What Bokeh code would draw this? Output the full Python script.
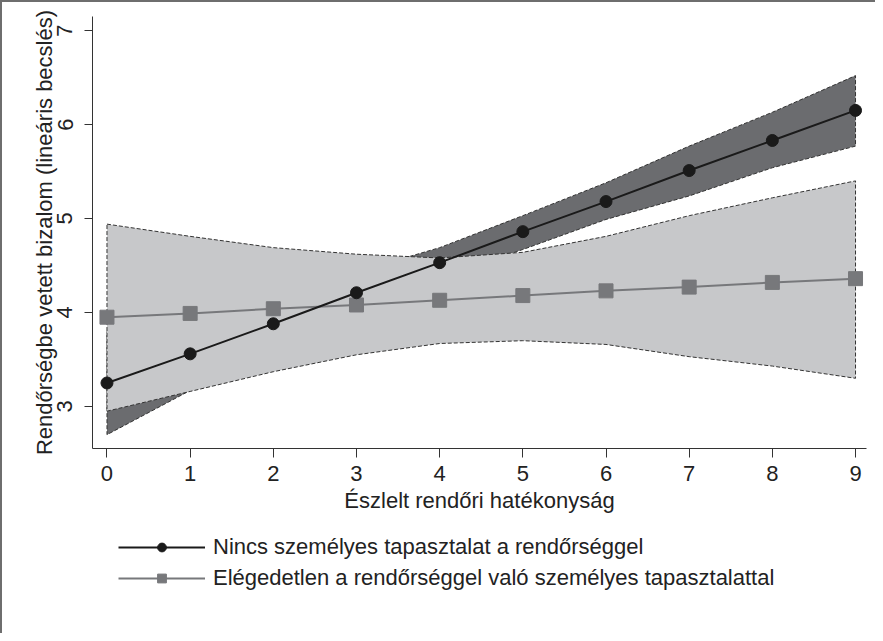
from bokeh.plotting import figure
from bokeh.layouts import column
from bokeh.models import FixedTicker, Legend, LegendItem, Range1d
from bokeh.embed import file_html
from bokeh.resources import INLINE

# ---- data ----
x_vals = [0, 1, 2, 3, 4, 5, 6, 7, 8, 9]
nincs_est = [3.25, 3.56, 3.88, 4.21, 4.53, 4.86, 5.18, 5.51, 5.83, 6.15]
nincs_lo = [2.70, 3.17, 3.59, 3.99, 4.37, 4.67, 4.99, 5.24, 5.54, 5.77]
nincs_hi = [3.80, 3.95, 4.19, 4.43, 4.69, 5.03, 5.38, 5.77, 6.13, 6.52]
eleg_est = [3.95, 3.99, 4.04, 4.08, 4.13, 4.18, 4.23, 4.27, 4.32, 4.36]
eleg_lo = [2.95, 3.16, 3.37, 3.55, 3.67, 3.70, 3.66, 3.53, 3.43, 3.30]
eleg_hi = [4.94, 4.81, 4.69, 4.62, 4.58, 4.64, 4.81, 5.03, 5.22, 5.40]
x_ticks = [0, 1, 2, 3, 4, 5, 6, 7, 8, 9]
y_ticks = [3, 4, 5, 6, 7]
series_labels = ["Nincs személyes tapasztalat a rendőrséggel",
                 "Elégedetlen a rendőrséggel való személyes tapasztalattal"]
x_title = "Észlelt rendőri hatékonyság"
y_title = "Rendőrségbe vetett bizalom (lineáris becslés)"

FONT = "Liberation Sans"
TXT = "#222222"
BLACK = "#1a1a1a"
GREY = "#77787b"

p = figure(output_backend="svg", toolbar_location=None,
           x_range=Range1d(-0.174, 9.132), y_range=Range1d(2.553, 7.149),
           frame_width=774, frame_height=432,
           min_border_left=92, min_border_right=9, min_border_top=16,
           min_border_bottom=72)
p.outline_line_color = None
p.xgrid.grid_line_color = None
p.ygrid.grid_line_color = None
p.background_fill_color = "white"
p.border_fill_color = None

# confidence bands: dark (no experience) first, light on top
def band_xs(xs):
    return list(xs) + list(xs)[::-1]

def band_ys(hi, lo):
    return list(hi) + list(lo)[::-1]

p.patch(band_xs(x_vals), band_ys(nincs_hi, nincs_lo), fill_color="#6b6c6f",
        line_color="#333333", line_width=1, line_dash="4 2")
p.patch(band_xs(x_vals), band_ys(eleg_hi, eleg_lo), fill_color="#c7c8ca",
        line_color="#333333", line_width=1, line_dash="4 2")

p.line(x_vals, eleg_est, line_color=GREY, line_width=2)
p.scatter(x_vals, eleg_est, marker="square", size=14,
          fill_color=GREY, line_color=GREY)
p.line(x_vals, nincs_est, line_color=BLACK, line_width=2)
p.scatter(x_vals, nincs_est, marker="circle", size=12,
          fill_color=BLACK, line_color=BLACK)

# axes
xa = p.xaxis[0]
xa.ticker = FixedTicker(ticks=x_ticks)
xa.axis_label = x_title
ya = p.yaxis[0]
ya.ticker = FixedTicker(ticks=y_ticks)
ya.axis_label = y_title
ya.major_label_orientation = "vertical"
for ax in (xa, ya):
    ax.minor_tick_line_color = None
    ax.axis_line_color = "#333333"
    ax.major_tick_line_color = "#333333"
    ax.major_tick_in = 0
    ax.major_label_text_font = FONT
    ax.major_label_text_font_size = "22px"
    ax.major_label_text_color = TXT
    ax.axis_label_text_font = FONT
    ax.axis_label_text_font_size = "22px"
    ax.axis_label_text_font_style = "normal"
    ax.axis_label_text_color = TXT
xa.major_tick_out = 9
xa.major_label_standoff = 8
xa.axis_label_standoff = 4
ya.major_tick_out = 8
ya.major_label_standoff = 12
ya.axis_label_standoff = -2

# legend strip below the chart (series drawn out of view, only keys shown)
leg = figure(output_backend="svg", toolbar_location=None,
             x_range=Range1d(100, 101), y_range=Range1d(100, 101),
             frame_width=875, frame_height=113,
             min_border_left=0, min_border_right=0, min_border_top=0,
             min_border_bottom=0)
leg.axis.visible = False
leg.grid.visible = False
leg.outline_line_color = None
leg.background_fill_color = None
leg.border_fill_color = None
kl = leg.line(x_vals, nincs_est, line_color=BLACK, line_width=2)
ks = leg.scatter(x_vals, nincs_est, marker="circle", size=12,
                 fill_color=BLACK, line_color=BLACK)
gl = leg.line(x_vals, eleg_est, line_color=GREY, line_width=2)
gs = leg.scatter(x_vals, eleg_est, marker="square", size=14,
                 fill_color=GREY, line_color=GREY)

legend = Legend(items=[LegendItem(label=series_labels[0], renderers=[kl, ks]),
                       LegendItem(label=series_labels[1], renderers=[gl, gs])],
                location=(118, 42), orientation="vertical")
legend.glyph_width = 87
legend.glyph_height = 22
legend.label_height = 22
legend.spacing = 5
legend.label_standoff = 8
legend.padding = 0
legend.margin = 0
legend.border_line_alpha = 0
legend.background_fill_alpha = 0
legend.label_text_font = FONT
legend.label_text_font_size = "22px"
legend.label_text_color = TXT
leg.add_layout(legend, "center")

page = column(p, leg, spacing=0,
              styles={"background-color": "white",
                      "box-shadow": "inset 2px 2px 0 0 #6e6e6e"})

open("out.html", "w").write(file_html(page, INLINE))
